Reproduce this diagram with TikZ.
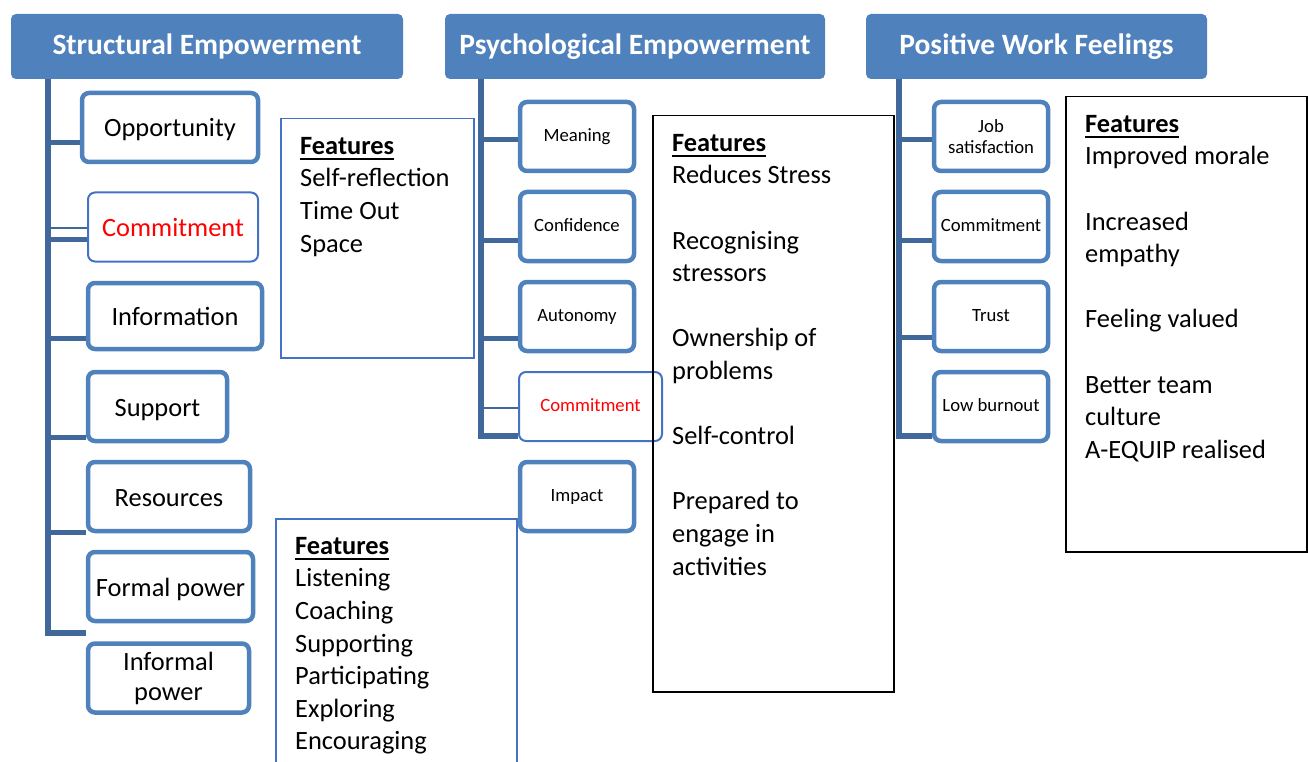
\documentclass[tikz,border=0pt]{standalone}
\usepackage{fontspec}
\setmainfont{Carlito}
\definecolor{headblue}{RGB}{79,129,189}
\definecolor{barblue}{RGB}{65,104,155}
\definecolor{lineblue}{RGB}{68,114,196}
\newcommand\feat{\setbox0\hbox{\bfseries Features}\rlap{\rule[-6pt]{\wd0}{2.5pt}}\box0}
\begin{document}
\begin{tikzpicture}[x=1pt, y=-1pt, node distance=90pt,
    head/.style = {fill=headblue, rounded corners=5pt, text=white, font=\fontsize{29.5}{34}\selectfont\bfseries, minimum height=65},
    big/.style = {draw=headblue, line width=4.5pt, rounded corners=7pt, fill=white, align=center, inner sep=0pt, minimum height=69, text height=23.8pt, text depth=4.8pt, font=\fontsize{26.4}{30}\selectfont},
    small/.style = {big, minimum width=114, text height=14.6pt, text depth=3.7pt, font=\fontsize{18.7}{21}\selectfont},
    redbox/.style = {line width=2pt, draw=lineblue, fill=none, text=red},
    bar/.style = {draw=barblue, line width=6pt},
    branch/.style = {draw=barblue, line width=5pt},
    thinbranch/.style = {draw=barblue, line width=2.5pt},
    fbox/.style = {line width=1.5pt, anchor=north west, inner sep=0pt},
    feats/.style = {anchor=north west, inner sep=0pt, align=left, font=\fontsize{26.4}{32.6}\selectfont}]
    \useasboundingbox (0,0) rectangle (1308,762);
    \clip (0,0) rectangle (1308,762);
    % headers
    \node[head, minimum width=392] (se) at (207,46.5) {Structural Empowerment};
    \node[head, minimum width=380] (pe) at (635,46.5) {Psychological Empowerment};
    \node[head, minimum width=341] (pw) at (1036.5,46.5) {Positive Work Feelings};
    % structural empowerment
    \node[big, minimum width=176] (opp) at (170,127.5) {Opportunity};
    \node[big, redbox, minimum width=170] (com) at (173,227) {Commitment};
    \node[big, minimum width=174, minimum height=66] (info) at (175,316) {Information};
    \node[big, minimum width=139] (supp) at (157.5,406.5) {Support};
    \node[big, minimum width=162] (res) at (169,496.5) {Resources};
    \node[big, minimum width=165] (form) at (170.5,586.5) {Formal power};
    \node[big, minimum width=161, text height=, text depth=] (inf) at (168.5,678) {Informal\\power};
    \coordinate (sb) at (48,79);
    \draw[bar] (sb) -- (sb |- 0,633) -- (form.west |- 0,633);
    \foreach \n/\y in {opp/143, com/239, info/338, supp/437, res/532}
        \draw[branch] (sb |- 0,\y) -- (\n.west |- 0,\y);
    \draw[thinbranch] (sb |- 0,228) -- (com.west |- 0,228);
    % psychological empowerment
    \node[small] (mea) at (577,136.5) {Meaning};
    \node[small, below of=mea] (conf) {Confidence};
    \node[small, below of=conf] (aut) {Autonomy};
    \node[small, redbox, below of=aut, xshift=13.5pt, minimum width=143] (com2) {Commitment};
    \node[small, below of=com2, xshift=-13.5pt] (imp) {Impact};
    \coordinate (pb) at (481,79);
    \draw[bar] (pb) -- (pb |- 0,436) -- (com2.west |- 0,436);
    \foreach \n/\y in {mea/140, conf/240, aut/338}
        \draw[branch] (pb |- 0,\y) -- (\n.west |- 0,\y);
    \draw[thinbranch] (pb |- 0,408) -- (com2.west |- 0,408);
    % positive work feelings
    \node[small, text height=, text depth=] (job) at (991,136.5) {Job\\satisfaction};
    \node[small, below of=job] (com3) {Commitment};
    \node[small, below of=com3] (tru) {Trust};
    \node[small, below of=tru] (low) {Low burnout};
    \coordinate (wb) at (899,79);
    \draw[bar] (wb) -- (wb |- 0,436) -- (low.west |- 0,436);
    \foreach \n/\y in {job/140, com3/240, tru/337}
        \draw[branch] (wb |- 0,\y) -- (\n.west |- 0,\y);
    % features
    \node[fbox, draw=lineblue, minimum width=193, minimum height=239] (f1) at (280,118) {};
    \node[feats] (f1t) at (300,137) {\feat\\Self-reflection\\Time Out\\Space};
    \node[fbox, draw=lineblue, minimum width=241, minimum height=300] (f2) at (275,518) {};
    \node[feats] (f2t) at (295,537) {\feat\\Listening\\Coaching\\Supporting\\Participating\\Exploring\\Encouraging};
    \node[fbox, draw=black, minimum width=241, minimum height=576] (f3) at (652,115) {};
    \node[feats] (f3t) at (672,134) {\feat\\Reduces Stress\\[32.6pt]Recognising\\stressors\\[32.6pt]Ownership of\\problems\\[32.6pt]Self-control\\[32.6pt]Prepared to\\engage in\\activities};
    \node[fbox, draw=black, minimum width=241, minimum height=455] (f4) at (1065,96) {};
    \node[feats] (f4t) at (1085,115) {\feat\\Improved morale\\[32.6pt]Increased\\empathy\\[32.6pt]Feeling valued\\[32.6pt]Better team\\culture\\A-EQUIP realised};
\end{tikzpicture}
\end{document}
